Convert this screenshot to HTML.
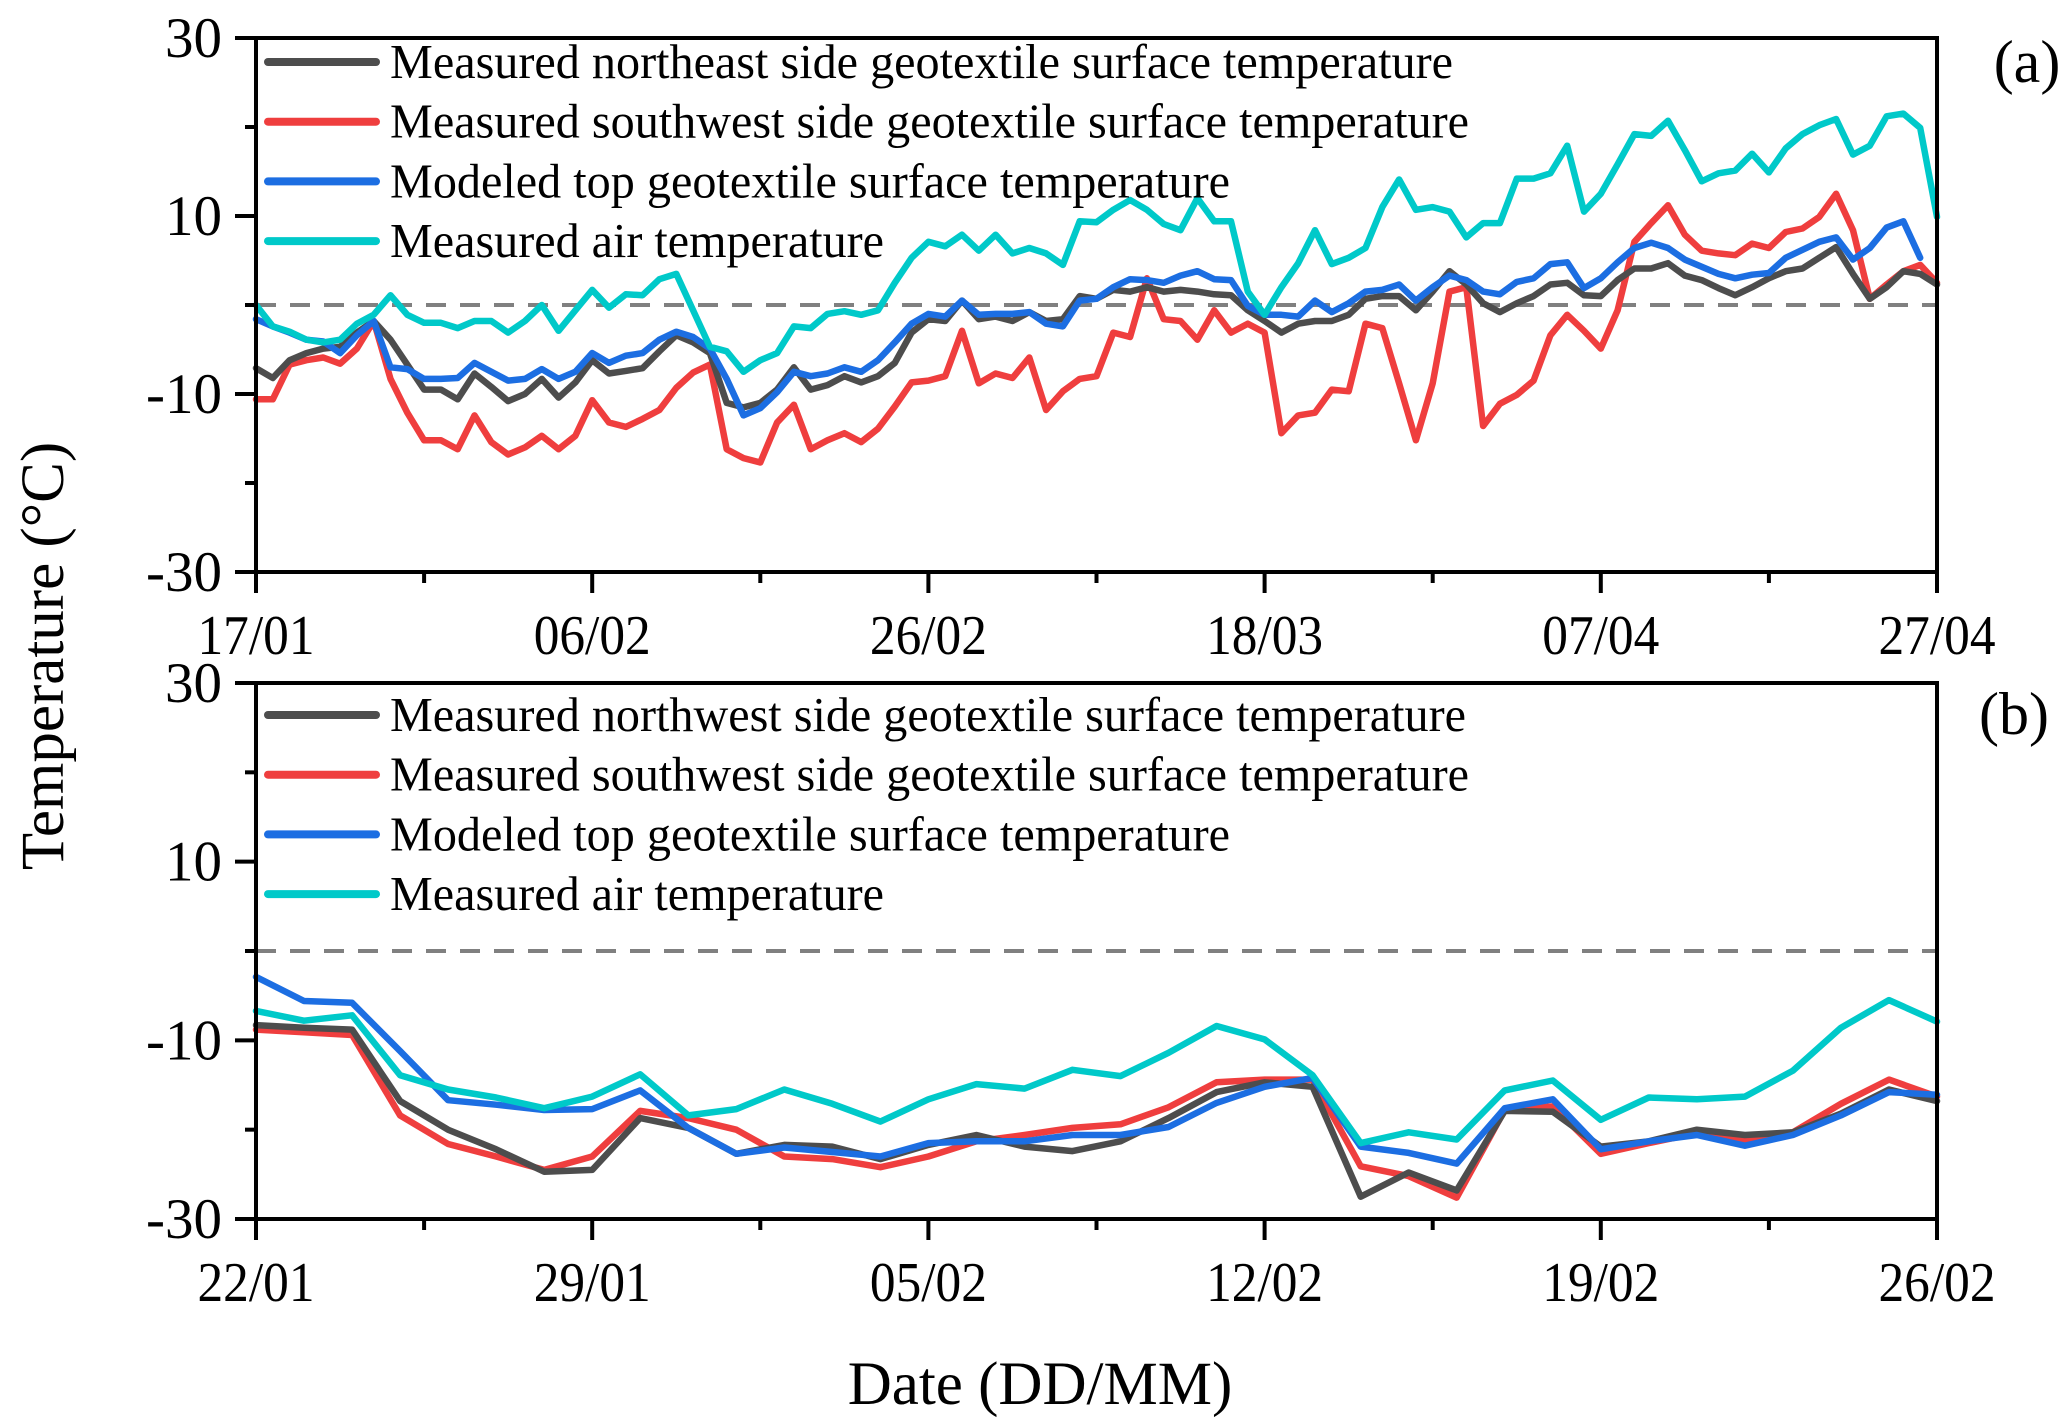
<!DOCTYPE html>
<html><head><meta charset="utf-8"><style>
html,body{margin:0;padding:0;background:#fff;}
svg{display:block;font-family:"Liberation Serif","Times New Roman",serif;}
</style></head><body>
<svg id="chart" width="2067" height="1427" viewBox="0 0 2067 1427" xmlns="http://www.w3.org/2000/svg"></svg>
<script>
// Panel (a): daily values, day 0 = 17/01
const aBlack = [-7.1,-8.2,-6.2,-5.4,-4.9,-4.7,-3.1,-1.8,-3.9,-6.7,-9.5,-9.5,-10.6,-7.7,-9.2,-10.8,-10,-8.3,-10.4,-8.7,-6.2,-7.7,-7.4,-7.1,-5.2,-3.4,-4.2,-5.4,-11,-11.5,-11,-9.5,-7,-9.5,-9,-8,-8.7,-8,-6.5,-3.1,-1.6,-1.8,0.5,-1.6,-1.3,-1.8,-0.8,
 -1.8,-1.6,1,0.7,1.7,1.5,2,1.5,1.7,1.5,1.2,1.1,-0.6,-1.8,-3.1,-2.1,-1.8,-1.8,-1.1,0.7,1,1,-0.6,1.5,3.8,2.3,0.2,-0.8,0.2,1,2.3,2.5,1.1,1,2.8,4.1,4.1,4.7,3.3,2.8,1.9,1.1,2,3,3.8,4.1,5.3,6.5,3.5,0.7,2,3.8,3.5,2.3];
const aRed = [-10.6,-10.6,-6.7,-6.2,-5.9,-6.6,-4.9,-1.8,-8.3,-12.1,-15.2,-15.2,-16.2,-12.4,-15.4,-16.8,-16,-14.7,-16.2,-14.7,-10.7,-13.2,-13.7,-12.8,-11.8,-9.3,-7.6,-6.7,-16.2,-17.2,-17.7,-13.2,-11.2,-16.2,-15.2,-14.4,-15.4,-13.9,-11.4,-8.7,-8.5,-8,-2.9,-8.8,-7.7,-8.2,-5.9,
 -11.8,-9.7,-8.3,-8,-3.1,-3.6,3,-1.6,-1.8,-3.9,-0.6,-3.1,-2.1,-3.1,-14.4,-12.4,-12.1,-9.5,-9.7,-2.1,-2.6,-8.8,-15.2,-8.8,1.5,2,-13.6,-11.1,-10.1,-8.5,-3.4,-1.1,-2.9,-4.9,-0.6,7.1,9.2,11.2,7.9,6.1,5.8,5.6,6.9,6.4,8.2,8.6,9.9,12.5,8.4,0.7,2.3,3.8,4.5,2.5];
const aBlue = [-1.6,-2.4,-3.1,-3.9,-4.1,-5.4,-3.4,-1.8,-7,-7.2,-8.3,-8.3,-8.2,-6.5,-7.5,-8.5,-8.3,-7.2,-8.3,-7.5,-5.4,-6.5,-5.7,-5.4,-3.9,-3,-3.6,-4.9,-8.3,-12.4,-11.6,-9.8,-7.5,-8,-7.7,-7,-7.5,-6.2,-4.2,-2.1,-1,-1.3,0.5,-1.1,-1,-1,-0.8,
 -2.1,-2.4,0.5,0.7,2,2.9,2.8,2.5,3.3,3.8,2.9,2.8,-0.1,-1.1,-1.1,-1.3,0.5,-0.8,0.2,1.5,1.7,2.3,0.5,2,3.3,2.8,1.5,1.2,2.6,3,4.6,4.8,1.9,3,4.8,6.4,7,6.4,5.1,4.3,3.5,3,3.4,3.6,5.3,6.2,7.1,7.6,5.1,6.4,8.7,9.4,5.3];
const aAir = [0,-2.4,-3,-3.9,-4.2,-3.9,-2.1,-1.1,1.1,-1.1,-2,-2,-2.6,-1.8,-1.8,-3.1,-1.8,0,-2.9,-0.6,1.7,-0.3,1.2,1.1,2.9,3.5,-0.6,-4.7,-5.2,-7.5,-6.2,-5.4,-2.4,-2.6,-1,-0.7,-1.1,-0.6,2.5,5.3,7.1,6.6,7.9,6.1,7.9,5.8,6.4,
 5.8,4.5,9.4,9.3,10.7,11.8,10.7,9.1,8.4,12,9.4,9.4,1.5,-1.1,2,4.7,8.4,4.6,5.3,6.4,11,14.1,10.7,11,10.5,7.6,9.2,9.2,14.2,14.2,14.8,17.9,10.5,12.5,15.8,19.2,19,20.7,17.4,13.9,14.8,15.1,17,14.9,17.6,19.2,20.2,20.9,16.9,17.9,21.2,21.5,19.9,9.9];
// Panel (b): daily values, day 0 = 22/01
const bBlack = [-8.3,-8.6,-8.8,-16.8,-20,-22.2,-24.7,-24.5,-18.7,-19.8,-22.7,-21.7,-21.9,-23.3,-21.7,-20.6,-21.9,-22.4,-21.3,-18.7,-15.8,-14.7,-15.2,-27.5,-24.8,-26.8,-17.9,-18,-21.9,-21.3,-20,-20.6,-20.3,-18.2,-15.5,-16.8];
const bRed = [-8.8,-9.1,-9.4,-18.4,-21.6,-23,-24.5,-23,-17.9,-18.7,-20,-23,-23.3,-24.2,-23,-21.3,-20.6,-19.8,-19.4,-17.5,-14.7,-14.4,-14.4,-24.1,-25.2,-27.6,-17.8,-17.4,-22.7,-21.5,-20.4,-21.1,-20.3,-17.1,-14.4,-16.3];
const bBlue = [-2.9,-5.6,-5.8,-11.2,-16.7,-17.2,-17.8,-17.7,-15.6,-19.8,-22.7,-22,-22.5,-23,-21.5,-21.3,-21.3,-20.6,-20.6,-19.7,-17,-15.2,-14.2,-21.9,-22.6,-23.8,-17.6,-16.6,-22.2,-21.3,-20.6,-21.8,-20.6,-18.4,-15.8,-16.1];
const bAir = [-6.7,-7.8,-7.2,-13.9,-15.5,-16.4,-17.6,-16.3,-13.8,-18.4,-17.7,-15.5,-17.1,-19.1,-16.6,-14.9,-15.4,-13.3,-14,-11.4,-8.4,-9.9,-13.9,-21.5,-20.3,-21.1,-15.6,-14.5,-18.9,-16.4,-16.6,-16.3,-13.4,-8.6,-5.5,-7.9];
const aXTicks = ['17/01','06/02','26/02','18/03','07/04','27/04'];
const bXTicks = ['22/01','29/01','05/02','12/02','19/02','26/02'];
const yTicks = ['-30','-10','10','30'];
const aLegend = ['Measured northeast side geotextile surface temperature','Measured southwest side geotextile surface temperature','Modeled top geotextile surface temperature','Measured air temperature'];
const bLegend = ['Measured northwest side geotextile surface temperature','Measured southwest side geotextile surface temperature','Modeled top geotextile surface temperature','Measured air temperature'];

const NS='http://www.w3.org/2000/svg';
const svg=document.getElementById('chart');
const COLORS=['#4d4d4d','#ef3e3e','#1c6ee2','#00c9c9'];
const LEGW=[[1063,1079,840,494],[1076,1079,840,494]];
function mk(tag,attrs,parent){const e=document.createElementNS(NS,tag);for(const k in attrs)e.setAttribute(k,attrs[k]);(parent||svg).appendChild(e);return e;}

function panel(cfg){
  const g=mk('g',{});
  
  
  const L=256,R=1937,T=cfg.top,B=cfg.bottom;
  const xs=d=>L+(R-L)*d/cfg.days;
  const ys=v=>B-(B-T)*(v+30)/60;
  const z=mk('line',{x1:L,x2:R,y1:ys(0),y2:ys(0),stroke:'#808080','stroke-width':4,'stroke-dasharray':'20 14'},g);
  
  
  const series=[cfg.black,cfg.red,cfg.blue,cfg.air];
  const order=[1,0,2,3];
  const snames=['series-measured-side-1','series-measured-southwest','series-modeled-top','series-air-temperature'];
  order.forEach(i=>{
    const pts=series[i].map((v,d)=>xs(d).toFixed(1)+','+ys(v).toFixed(1)).join(' ');
    const p=mk('polyline',{points:pts,fill:'none',stroke:COLORS[i],'stroke-width':6.5,'stroke-linejoin':'round','stroke-linecap':'round'},g);
    
    
  });
  const f=mk('rect',{x:L,y:T,width:R-L,height:B-T,fill:'none',stroke:'#000','stroke-width':4},g);
  
  
  for(let v=-30;v<=30;v+=10){
    const major=(v%20!==0);
    mk('line',{x1:L-(major?21:11),x2:L,y1:ys(v),y2:ys(v),stroke:'#000','stroke-width':4},g);
  }
  yTicks.forEach(t=>{
    const tx=mk('text',{x:L-34,y:ys(+t)+19,'text-anchor':'end','font-size':57},g);
    tx.textContent=t;
    
    
  });
  const nMinor=cfg.days/cfg.minorStep;
  for(let i=0;i<=nMinor;i++){
    const d=i*cfg.minorStep; const major=(i%2===0);
    mk('line',{x1:xs(d),x2:xs(d),y1:B,y2:B+(major?21:11),stroke:'#000','stroke-width':4},g);
  }
  cfg.xticks.forEach((t,i)=>{
    const tx=mk('text',{x:xs(i*cfg.minorStep*2),y:B+82,'text-anchor':'middle','font-size':56,textLength:117,lengthAdjust:'spacingAndGlyphs'},g);
    tx.textContent=t;
    
    
  });
  cfg.legend.forEach((t,i)=>{
    const y=cfg.legY+i*59.7;
    const ln=mk('line',{x1:268,x2:376,y1:y,y2:y,stroke:COLORS[i],'stroke-width':8,'stroke-linecap':'round'},g);
    
    
    const tx=mk('text',{x:390,y:y+16,'font-size':49,textLength:LEGW[cfg.li][i],lengthAdjust:'spacingAndGlyphs'},g);
    tx.textContent=t;
    
    
  });
  const pl=mk('text',{x:cfg.labX,y:cfg.labY,'text-anchor':'middle','font-size':60},g);
  pl.textContent=cfg.label;
  
  
}
panel({name:'panel-a',top:38,bottom:572,days:100,minorStep:10,black:aBlack,red:aRed,blue:aBlue,air:aAir,xticks:aXTicks,legend:aLegend,legY:62,li:0,label:'(a)',labX:2027,labY:82});
panel({name:'panel-b',top:683,bottom:1219,days:35,minorStep:3.5,black:bBlack,red:bRed,blue:bBlue,air:bAir,xticks:bXTicks,legend:bLegend,legY:715,li:1,label:'(b)',labX:2014,labY:734});

const xt=mk('text',{x:1040,y:1404,'text-anchor':'middle','font-size':61});
xt.textContent='Date (DD/MM)';


const yt=mk('text',{x:0,y:0,'text-anchor':'middle','font-size':61,transform:'translate(63,656) rotate(-90)'});
yt.textContent='Temperature (°C)';


</script>
</body></html>
